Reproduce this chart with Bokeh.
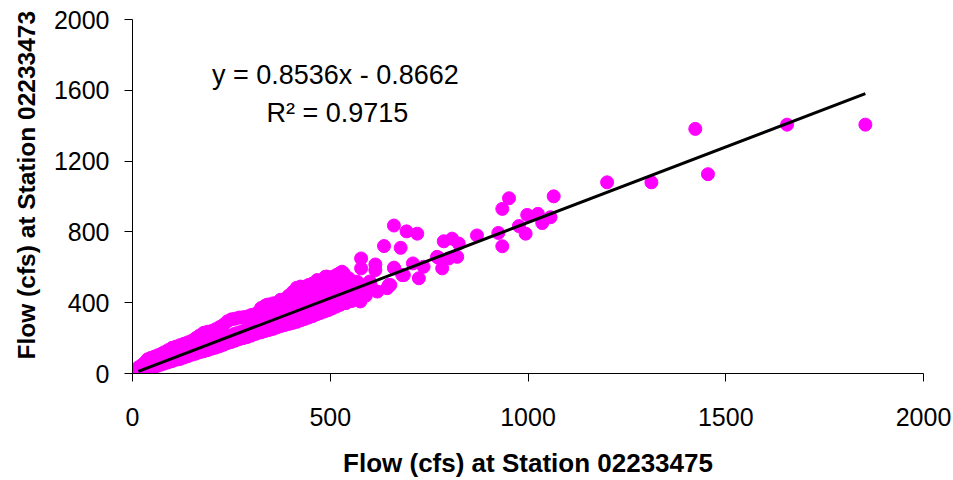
from bokeh.plotting import figure
from bokeh.models import Range1d, FixedTicker, Label, Title
from bokeh.embed import file_html
from bokeh.resources import INLINE

# ---- data ----
band_x = [
    15, 15, 15, 22, 22, 22, 30, 30, 30, 38, 38, 38, 46, 46, 46, 55, 55, 55,
    64, 64, 64, 72, 72, 72, 80, 80, 80, 90, 90, 90, 100, 100, 100, 110, 110, 110,
    120, 120, 120, 130, 130, 130, 140, 140, 140, 150, 150, 150, 160, 160, 160,
    170, 170, 170, 180, 180, 180, 190, 190, 190, 200, 200, 200, 210, 210, 210,
    220, 220, 220, 230, 230, 230, 240, 240, 240, 250, 250, 250, 260, 260, 260,
    270, 270, 270, 280, 280, 280, 290, 290, 290, 300, 300, 300, 300,
    312, 312, 312, 312, 325, 325, 325, 325, 335, 335, 335, 335,
    345, 345, 345, 345, 355, 355, 355, 355, 365, 365, 365, 365,
    375, 375, 375, 375, 385, 385, 385, 385, 395, 395, 395, 395,
    405, 405, 405, 405, 415, 415, 415, 415, 425, 425, 425, 425,
    435, 435, 435, 435, 445, 445, 445, 445, 455, 455, 455, 455,
    465, 465, 465, 465, 475, 475, 475, 475, 485, 485, 485, 485,
    495, 495, 495, 495, 505, 505, 505, 505, 515, 515, 515, 515,
    525, 525, 525, 525, 540, 540, 540, 555, 555, 555, 570, 570, 585, 585,
]
band_y = [
    12, 22, 35, 16, 30, 45, 22, 38, 60, 28, 45, 80, 33, 52, 88, 36, 58, 95,
    44, 66, 103, 50, 74, 110, 56, 80, 120, 63, 88, 132, 70, 96, 145, 78, 104, 152,
    82, 112, 160, 90, 120, 168, 98, 130, 176, 106, 136, 185, 112, 145, 200,
    120, 152, 215, 126, 160, 230, 132, 168, 236, 140, 176, 240, 146, 184, 250,
    154, 192, 262, 162, 200, 275, 172, 208, 295, 178, 216, 306, 186, 226, 310,
    194, 232, 316, 200, 240, 318, 206, 250, 322, 214, 246, 284, 330,
    224, 254, 296, 338, 232, 262, 316, 370, 240, 272, 326, 382,
    246, 280, 334, 390, 252, 288, 342, 396, 260, 298, 350, 400,
    268, 306, 358, 402, 274, 314, 366, 420, 280, 322, 378, 440,
    286, 330, 390, 460, 292, 338, 410, 484, 300, 346, 420, 486,
    308, 356, 428, 490, 316, 364, 436, 500, 324, 372, 444, 508,
    334, 382, 452, 516, 342, 392, 460, 522, 350, 400, 468, 530,
    358, 408, 476, 540, 368, 416, 484, 545, 378, 426, 494, 556,
    388, 436, 504, 568, 398, 462, 500, 410, 474, 520, 422, 486, 436, 498,
]
scatter_x = [
    952, 935, 1065, 998, 1025, 1057, 977, 994, 1036, 925, 935, 871, 825, 808,
    787, 821, 800, 774, 783, 724, 736, 709, 661, 693, 720, 636, 678, 578, 614,
    661, 682, 578, 530, 652, 619, 576, 614, 534, 488, 662, 770, 686, 648, 568,
    547, 509, 484, 526, 602, 644, 530, 425, 492, 467, 374, 340,
    505, 520, 540, 555, 560, 585, 590, 600, 545, 510, 500, 525,
    1200, 1312, 1423, 1455, 1655, 1853,
]
scatter_y = [
    990, 930, 1001, 896, 902, 883, 833, 790, 850, 794, 719, 780, 734, 762,
    747, 659, 650, 654, 594, 538, 603, 622, 836, 803, 790, 720, 710, 650, 616,
    598, 556, 594, 566, 500, 463, 407, 584, 566, 547, 594, 659, 556, 500, 519,
    538, 510, 482, 454, 500, 482, 575, 491, 547, 528, 416, 388,
    420, 440, 470, 430, 480, 470, 440, 520, 500, 460, 400, 395,
    1080, 1080, 1382, 1126, 1406, 1406,
]
slope = 0.8536
intercept = -0.8662
x_ticks = [0, 500, 1000, 1500, 2000]
y_ticks = [0, 400, 800, 1200, 1600, 2000]
eq_text = "y = 0.8536x - 0.8662"
r2_text = "R\u00b2 = 0.9715"
x_title = "Flow (cfs) at Station 02233475"
y_title = "Flow (cfs) at Station 02233473"

xs = band_x + scatter_x
ys = band_y + scatter_y
lx = [min(xs), max(xs)]
ly = [slope * v + intercept for v in lx]

FONT = "Liberation Sans"

p = figure(width=953, height=480, output_backend="svg", toolbar_location=None,
           x_range=Range1d(0, 2000), y_range=Range1d(0, 2000),
           min_border_left=132, min_border_right=30, min_border_top=19,
           min_border_bottom=104)
p.outline_line_color = None
p.xgrid.visible = False
p.ygrid.visible = False
p.background_fill_color = "white"
p.border_fill_color = "white"

p.scatter(xs, ys, size=13, fill_color="#FF00FF", line_color="#FF00FF")
p.line(lx, ly, line_color="black", line_width=3)

for ax in (p.xaxis[0], p.yaxis[0]):
    ax.axis_line_color = "black"
    ax.axis_line_width = 1
    ax.major_tick_line_color = "black"
    ax.major_tick_out = 8
    ax.major_tick_in = 0
    ax.minor_tick_line_color = None
    ax.major_label_text_font = FONT
    ax.major_label_text_font_size = "25px"
    ax.major_label_text_color = "black"
    ax.axis_label_text_font = FONT
    ax.axis_label_text_font_style = "bold"
    ax.axis_label_text_font_size = "26px"
    ax.axis_label_text_color = "black"

p.xaxis.ticker = FixedTicker(ticks=x_ticks)
p.yaxis.ticker = FixedTicker(ticks=y_ticks)
p.xaxis.axis_label = x_title
p.xaxis.major_label_standoff = 26
p.yaxis.major_label_standoff = 15
p.xaxis.axis_label_standoff = 19

# y-axis title as a side title so it can sit slightly above the frame centre
p.add_layout(Title(text=y_title, align="left", offset=14,
                   vertical_align="middle", standoff=20,
                   text_font=FONT, text_font_style="bold",
                   text_font_size="24.5px", text_color="black"), "left")

p.add_layout(Label(x=513, y=1686, text=eq_text, text_align="center",
                   text_baseline="middle", text_font=FONT,
                   text_font_size="27px", text_color="black"))
p.add_layout(Label(x=518, y=1473, text=r2_text, text_align="center",
                   text_baseline="middle", text_font=FONT,
                   text_font_size="27px", text_color="black"))

open("out.html", "w").write(file_html(p, INLINE))
